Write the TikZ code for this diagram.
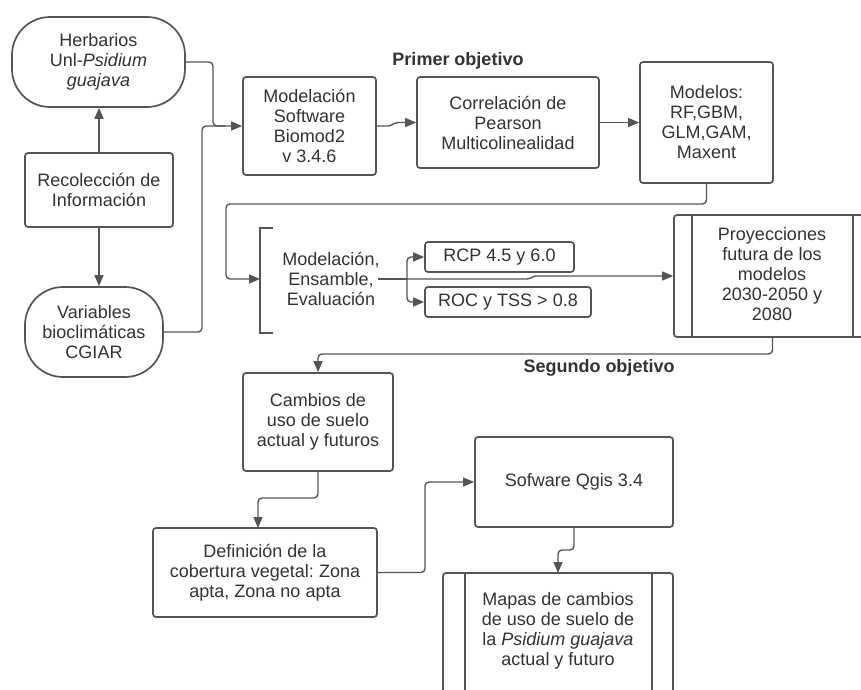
\documentclass[tikz,border=0pt]{standalone}
\usepackage{fontspec}
\setmainfont{Liberation Sans}
\usetikzlibrary{arrows.meta}
\frenchspacing
\definecolor{lncol}{HTML}{555555}
\definecolor{txcol}{HTML}{333333}
\tikzset{
  box/.style={draw=lncol, line width=1.7pt, rounded corners=3pt, align=center, inner sep=0pt, text=txcol, font=\fontsize{18}{20}\selectfont},
  stadium/.style={box, rounded corners=38pt},
  plain/.style={align=center, inner sep=0pt, text=txcol, font=\fontsize{18}{20}\selectfont},
  titl/.style={inner sep=0pt, text=txcol, font=\fontsize{18}{20}\selectfont\bfseries},
  conn/.style={draw=lncol, line width=1.4pt, rounded corners=4pt},
  arr/.style={conn, -{Triangle[length=11pt,width=9pt]}},
}
\begin{document}
\begin{tikzpicture}[x=1pt,y=-1pt]
\fill[white] (0,0) rectangle (861,689);
\clip (0,0) rectangle (861,689);
% nodes
\node[stadium, minimum width=173pt, minimum height=90pt] (herb) at (98.5,62) {Herbarios\\Unl-\textit{Psidium}\\\textit{guajava}};
\node[box, minimum width=148pt, minimum height=74pt] (rec) at (99,190) {Recolección de\\Información};
\node[stadium, minimum width=138pt, minimum height=90pt] (var) at (94,332) {Variables\\bioclimáticas\\CGIAR};
\node[box, minimum width=133pt, minimum height=98pt] (mod) at (309.5,126) {Modelación\\Software\\Biomod2\\v 3.4.6};
\node[box, minimum width=182pt, minimum height=91pt] (corr) at (508,122.5) {Correlación de\\Pearson\\Multicolinealidad};
\node[box, minimum width=133pt, minimum height=121pt] (mdl) at (706.5,122.5) {Modelos:\\RF,GBM,\\GLM,GAM,\\Maxent};
\node[titl] (t1) at (458,61) {Primer objetivo};
\node[plain] (mee) at (331,279) {Modelación,\\Ensamble,\\Evaluación};
\node[box, minimum width=149pt, minimum height=30pt] (rcp) at (499.5,257) {RCP 4.5 y 6.0};
\node[box, minimum width=166pt, minimum height=30pt] (roc) at (508,302) {ROC y TSS > 0.8};
\node[box, minimum width=197pt, minimum height=122pt] (proy) at (772.5,276) {};
\node[plain] (proytx) at (772,274) {Proyecciones\\futura de los\\modelos\\2030-2050 y\\2080};
\node[titl] (t2) at (599,368) {Segundo objetivo};
\node[box, minimum width=150pt, minimum height=98pt] (cam) at (318,422) {Cambios de\\uso de suelo\\actual y futuros};
\node[box, minimum width=224pt, minimum height=89pt] (def) at (265,572.5) {Definición de la\\cobertura vegetal: Zona\\apta, Zona no apta};
\node[box, minimum width=198pt, minimum height=90pt] (sof) at (574,482) {Sofware Qgis 3.4};
\node[box, minimum width=230pt, minimum height=140pt] (map) at (558,643) {};
\node[plain] (maptx) at (558,631) {Mapas de cambios\\de uso de suelo de\\la \textit{Psidium guajava}\\actual y futuro};
% inner lines of predefined-process boxes
\draw[draw=lncol, line width=1.7pt] ([xshift=19pt]proy.north west) -- ([xshift=19pt]proy.south west);
\draw[draw=lncol, line width=1.7pt] ([xshift=-19pt]proy.north east) -- ([xshift=-19pt]proy.south east);
\draw[draw=lncol, line width=1.7pt] ([xshift=23pt]map.north west) -- ([xshift=23pt]map.south west);
\draw[draw=lncol, line width=1.7pt] ([xshift=-22pt]map.north east) -- ([xshift=-22pt]map.south east);
% bracket
\coordinate (bt) at (273,228);
\coordinate (bb) at (273,333);
\coordinate (bl) at (260,279);
\draw[draw=lncol, line width=1.7pt] (bt) -- (bl |- bt) -- (bl |- bb) -- (bb);
% connectors
\draw[arr] (rec.north) -- (rec.north |- herb.south);
\draw[arr] (rec.south) -- (rec.south |- var.north);
\draw[conn] (herb.east) -- (213,62) -- (213,126) -- (225,126);
\draw[arr] (var.east) -- (202,332) -- (202,126) -- (mod.west);
\draw[arr, rounded corners=2pt] (mod.east) -- (390,126) -- (396,122.5) -- (corr.west);
\draw[arr] (corr.east) -- (mdl.west);
\draw[arr] (mdl.south) -- (706.5,204) -- (226,204) -- (226,279) -- (bl);
\coordinate (br) at (407,279);
\draw[conn] ([xshift=-2pt]mee.east) -- (br);
\draw[arr] (br) |- (rcp.west);
\draw[arr] (br) |- (roc.west);
\draw[arr, rounded corners=2pt] (br) -- (529,279) -- (534,276) -- (proy.west);
\draw[arr] (proy.south) -- (772.5,354) -- (318,354) -- (cam.north);
\draw[arr] (cam.south) -- (318,498) -- (258,498) -- (258,528);
\draw[arr] (def.east) -- (425,572.5) -- (425,482) -- (sof.west);
\draw[arr] (sof.south) -- (574,550) -- (558,550) -- (558,573);
\end{tikzpicture}
\end{document}
